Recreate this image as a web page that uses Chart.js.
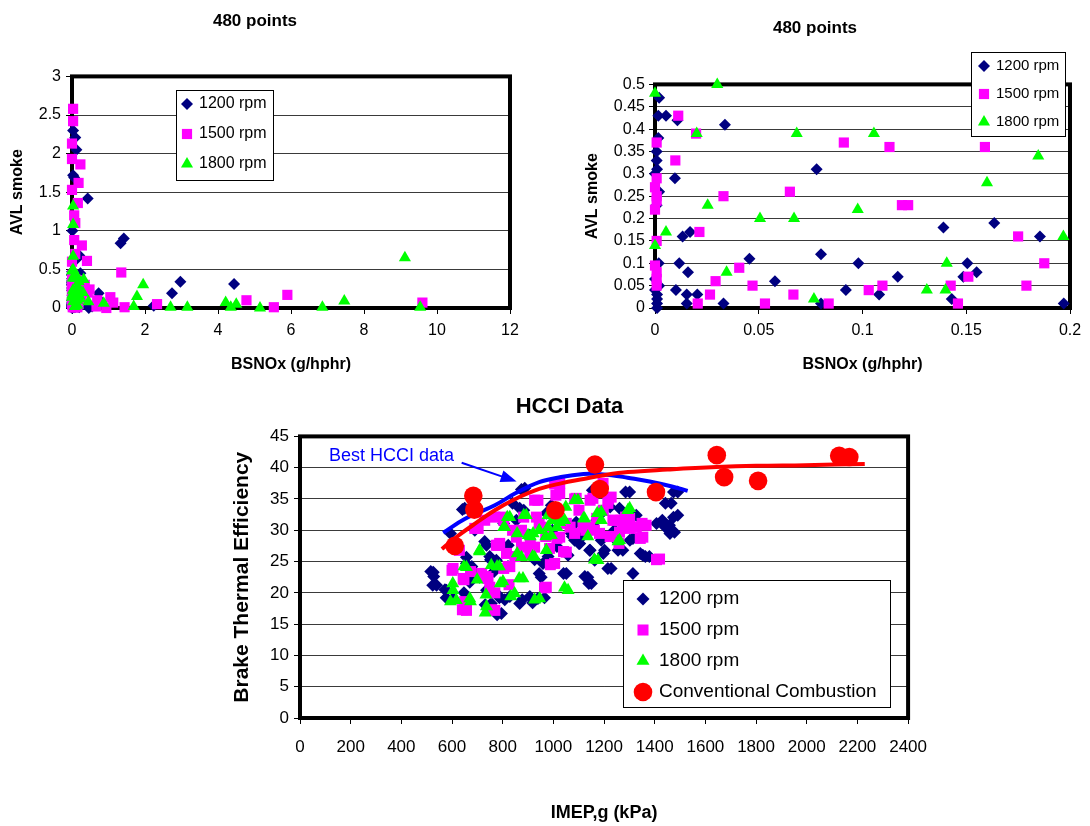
<!DOCTYPE html>
<html>
<head>
<meta charset="utf-8">
<title>HCCI smoke and efficiency</title>
<script src="https://cdn.jsdelivr.net/npm/chart.js@4.4.0/dist/chart.umd.min.js"></script>
<style>
  html, body { margin: 0; padding: 0; background: #fff; }
  body { width: 1090px; height: 826px; position: relative; overflow: hidden; }
  canvas { position: absolute; }
  #smokeWide { left: 0; top: 0; }
  #smokeZoom { left: 560px; top: 0; }
  #hcci { left: 200px; top: 385px; }
</style>
</head>
<body>
<canvas id="smokeWide" width="530" height="380"></canvas>
<canvas id="smokeZoom" width="530" height="380"></canvas>
<canvas id="hcci" width="740" height="441"></canvas>
<script>
//------------------ Data ------------------//
// AVL smoke vs BSNOx, [BSNOx, smoke]
const smoke1200 = [
  [0.002,0.47],[0.0016,0.43],[0.0053,0.43],[0.0108,0.42],[0.0337,0.41],[0.0016,0.38],[0.0008,0.35],
  [0.0008,0.33],[0.001,0.31],[0,0.30],[0.0096,0.29],[0.0779,0.31],[0.002,0.26],[0.0008,0.23],
  [0.0133,0.16],[0.0169,0.17],[0.139,0.18],[0.1635,0.19],[0.1855,0.16],[0.0018,0.10],[0.0117,0.10],
  [0.0159,0.08],[0.0455,0.11],[0.080,0.12],[0.098,0.10],[0.1505,0.10],[0.155,0.08],[0.117,0.07],
  [0.1486,0.07],[0.0578,0.06],[0.0101,0.04],[0.0153,0.03],[0.0204,0.03],[0.0153,0.01],[0.033,0.01],
  [0.080,0.01],[0.092,0.04],[0.108,0.03],[0.143,0.02],[0.197,0.01],[0,0.04],[0.001,0.03],[0.001,0.02],
  [0.001,0.01],[0.001,0],[0.002,0.05],[0,0.065],
  [0.03,2.3],[0.09,2.21],[0.12,2.05],[0.03,1.72],[0.06,1.69],[0.43,1.42],[1.33,0.84],[1.42,0.9],
  [0.23,0.45],[0.14,0.64],[0.73,0.19],[0.78,0.09],[0.85,0.05],[2.24,0.03],[2.74,0.19],[2.97,0.34],
  [4.44,0.31],[0.01,1.0],[0.46,0],[0.2,0.68],[0.3,0.05],[0.55,0.02]
];
const smoke1500 = [
  [0.0112,0.43],[0.0198,0.39],[0.0008,0.37],[0.0098,0.33],[0.0008,0.29],[0,0.27],[0.0008,0.25],
  [0.0008,0.24],[0,0.22],[0.033,0.25],[0.065,0.26],[0.091,0.37],[0.113,0.36],[0.159,0.36],[0.119,0.23],
  [0.122,0.23],[0.175,0.16],[0.1876,0.10],[0.0214,0.17],[0.0008,0.15],[0.0406,0.09],[0.0292,0.06],
  [0.0265,0.03],[0.047,0.05],[0.053,0.01],[0.0667,0.03],[0.0837,0.01],[0.103,0.04],[0.1096,0.05],
  [0.1425,0.05],[0.146,0.01],[0.151,0.07],[0.179,0.05],[0.0206,0.01],[0.0008,0.08],[0.0008,0.065],
  [0,0.095],[0.0008,0.05],
  [0.03,2.58],[0.03,2.42],[0,2.13],[0,1.93],[0.23,1.86],[0.18,1.62],[0,1.53],[0.16,1.36],[0.06,1.2],
  [0.09,1.1],[0.06,0.88],[0.27,0.81],[0.41,0.61],[1.35,0.46],[0.48,0.24],[0.43,0.2],[1.05,0.14],
  [1.13,0.07],[0.67,0.02],[0.94,0],[1.44,0.01],[2.33,0.05],[4.78,0.1],[5.53,0.01],[5.9,0.17],
  [9.6,0.07],[0,0.6],[0.09,0.7],[0.25,0.12],[0.69,0.1],[0.35,0.3]
];
const smoke1800 = [
  [0,0.48],[0.0201,0.39],[0.0683,0.39],[0.1055,0.39],[0.1847,0.34],[0.0254,0.23],[0.0506,0.20],
  [0.067,0.20],[0.0977,0.22],[0.0053,0.17],[0,0.14],[0.0345,0.08],[0.1406,0.10],[0.1968,0.16],
  [0.131,0.04],[0.0766,0.02],
  [0.03,1.32],[0.03,1.08],[0.03,0.67],[0.03,0.5],[0.16,0.39],[0.32,0.37],[0.16,0.28],[0.23,0.12],
  [0.14,0.04],[0.87,0.06],[1.69,0.02],[1.78,0.15],[1.95,0.3],[2.7,0.01],[3.16,0.01],[4.21,0.07],
  [4.35,0.01],[4.5,0.05],[5.15,0],[6.86,0.01],[7.46,0.09],[9.12,0.65],[9.54,0.01],[0.3,0.2],[0.45,0.08]
];

// Brake thermal efficiency vs IMEP,g, [kPa, %]
const imep1200 = [
  [516,23.4],[528,22.6],[524,21.2],[572,20.5],[577,19.2],[594,29.5],[641,33.3],[647,20],[670,22.6],
  [678,24.2],[729,28.2],[731,18.1],[752,25.3],[766,23.4],[778,16.5],[787,19.2],[808,18.9],[804,31.1],
  [822,27.6],[839,34.3],[874,36.5],[877,18.9],[883,33.2],[918,18.4],[926,25.3],[944,23.1],[965,19.2],
  [979,25.8],[996,30],[1014,27.4],[1040,23.1],[1058,26],[1075,29],[1101,27.9],[1119,29.2],[1124,22.6],
  [1140,21.5],[1145,26.8],[1154,36.4],[1171,31.6],[1197,26.3],[1215,23.9],[1224,33.7],[1241,30],
  [1259,29.5],[1285,36.1],[1302,28.4],[1315,32.4],[1343,26.3],[1363,25.8],[1407,31.1],[1430,31.6],
  [1442,34.3],[1442,30.5],[1460,29.5],[1474,32.1],[1474,36.1],
  [526,23.3],[539,21.2],[578,20.4],[604,19.1],[650,33.5],[690,30.0],[736,27.6],[749,25.8],[775,25.2],
  [657,24.7],[683,23.6],[709,22.5],[736,20.4],[755,18.3],[795,16.7],[788,19.4],[821,24.2],[828,19.4],
  [867,18.3],[887,36.7],[867,33.5],[854,31.6],[907,19.4],[939,19.1],[907,29.2],[959,24.7],[952,22.5],
  [992,34],[1012,28.9],[1051,23.1],[1071,29.5],[1084,28.4],[1104,27.9],[1143,26.8],[1136,22.5],
  [1150,21.5],[1163,25.2],[1189,28.4],[1202,26.8],[1228,23.9],[1241,28.7],[1261,33.5],[1255,26.8],
  [1301,36.1],[1314,28.7],[1327,32.4],[1353,26],[1379,25.8],[1465,34.3],[1491,36.1],[1491,32.4],
  [1432,31.1],[1458,30.8],[1478,29.7],[657,25.7],[972,32.7],[1090,31.3],[1182,32.4],[670,21.7],
  [1314,23.1],[1274,26.8]
];
const imep1500 = [
  [600,23.6],[629,26.8],[641,17.3],[655,18.1],[647,22.1],[690,30.3],[734,22.6],[755,17.3],[769,32.1],
  [781,27.6],[822,24.2],[825,21.3],[848,25.8],[874,30],[883,32.1],[926,34.8],[965,20.8],[988,24.5],
  [1005,37.4],[1010,35.6],[1014,28.7],[1040,26.6],[1066,30.5],[1084,35],[1101,33.2],[1128,30],
  [1145,34.8],[1162,30],[1171,31.9],[1197,33.2],[1218,35],[1224,29],[1241,31.6],[1259,27.9],
  [1267,31.6],[1285,32.1],[1302,30.3],[1325,30.5],[1343,28.7],[1350,31.1],[1407,25.3],[839,30],
  [944,31.1],[970,29],[909,27.9],[804,31.6],[717,23.1],[673,23.4],[769,20],[804,23.9],
  [604,23.9],[644,22.3],[657,17.2],[650,18.6],[703,30.3],[742,22.3],[749,20.9],[788,27.9],[801,32.1],
  [828,24.2],[769,17.2],[874,27.3],[854,28.9],[907,26.3],[926,27.3],[939,34.8],[972,20.9],[1005,24.7],
  [1025,37.5],[1025,35.9],[1025,28.9],[1051,26.5],[1090,35.1],[1117,30.5],[1156,35.1],[1143,30.5],
  [1182,29.5],[1196,37.5],[1215,34.3],[1228,35.3],[1235,31.6],[1274,30.8],[1301,31.9],[1327,30.5],
  [1353,28.9],[1366,30.8],[1419,25.4],[775,27.6],[815,26.3],[952,30.5],[985,27.1],[1084,29.5],
  [1261,29.7],[729,31.6],[933,32.1],[1051,31.1]
];
const imep1800 = [
  [594,18.6],[603,21.5],[647,24.2],[673,18.6],[708,26.6],[731,16.8],[734,19.7],[778,24.2],[790,21.5],
  [804,30.5],[818,32.1],[832,19.4],[857,29.5],[865,22.3],[883,32.4],[909,29],[918,25.8],[926,18.9],
  [970,29],[979,30.5],[996,31.6],[1023,32.1],[1044,20.8],[1084,34.8],[1119,31.9],[1136,29],[1162,25.3],
  [1173,32.7],[1189,31.6],[1255,28.2],[1294,33.2],[1049,33.7],[944,30],[1014,30.5],[857,26.3],
  [787,24.2],[699,22.1],
  [604,20.4],[617,18.8],[670,19.1],[657,24.1],[709,26.8],[755,24.4],[801,21.8],[808,30.5],[828,32.1],
  [847,19.9],[874,25.7],[880,22.3],[893,32.4],[900,29.2],[926,25.7],[920,29.5],[946,19.1],[979,32.4],
  [992,29.2],[1044,31.6],[1058,20.4],[1097,34.8],[1123,31.9],[1189,32.9],[1176,25.2],[1261,28.4],
  [1301,33.5],[736,17.8],[1025,31.3],[972,26.8]
];
const conventional = [
  [611,27.5],[684,35.5],[688,33.3],[1008,33.2],[1164,40.5],[1183,36.6],[1405,36.1],[1645,42],
  [1674,38.5],[1808,37.9],[2128,41.9],[2168,41.7]
];

// trend curves
const bestHcciX = [565, 650, 769, 850, 944, 1030, 1119, 1171, 1230, 1293, 1380, 1468, 1530];
const bestHcciY = [29.6, 31.8, 34.0, 35.9, 37.7, 38.5, 39.0, 39.0, 38.8, 38.4, 37.8, 37.0, 36.3];
const convFitX = [560, 620, 682, 769, 850, 944, 1030, 1119, 1200, 1294, 1450, 1643, 1800, 1993, 2229];
const convFitY = [27.0, 29.0, 30.8, 33.2, 35.0, 36.6, 37.5, 38.2, 38.8, 39.3, 39.7, 40.1, 40.3, 40.4, 40.6];

// tick labels
const wideXTicks = [0, 2, 4, 6, 8, 10, 12];
const wideYTicks = [0, 0.5, 1, 1.5, 2, 2.5, 3];
const zoomXTicks = [0, 0.05, 0.1, 0.15, 0.2];
const zoomYTicks = [0, 0.05, 0.1, 0.15, 0.2, 0.25, 0.3, 0.35, 0.4, 0.45, 0.5];
const imepTicks = [0, 200, 400, 600, 800, 1000, 1200, 1400, 1600, 1800, 2000, 2200, 2400];
const bteTicks = [0, 5, 10, 15, 20, 25, 30, 35, 40, 45];

// annotation
const noteText = 'Best HCCI data';
const noteAt = [114, 41.8];
const arrowFrom = [638, 40.8];
const arrowTo = [855, 37.8];

//------------------ Helpers ------------------//
const FONT = "'Liberation Sans', Arial, Helvetica, sans-serif";
const NAVY = '#000080', MAGENTA = '#ff00ff', GREEN = '#00ff00', RED = '#ff0000', BLUE = '#0000ff';

function fixedTicks(values) {
  return scale => { scale.ticks = values.map(v => ({ value: v })); };
}
const tickText = v => String(+Number(v).toFixed(3));

function toPoints(pairs) {
  return pairs.map(([x, y]) => ({ x, y }));
}

function markerSet(label, pairs, style, color, r, order) {
  return {
    label, data: toPoints(pairs), pointStyle: style, pointRadius: r,
    backgroundColor: color, borderColor: color, pointBorderWidth: 0, borderWidth: 0,
    showLine: false, clip: false, order
  };
}

// thick black frame round the plot area (Excel style)
const plotFrame = {
  id: 'plotFrame',
  beforeDatasetsDraw(chart) {
    const { ctx, chartArea: a } = chart;
    ctx.save();
    ctx.strokeStyle = '#000';
    ctx.lineWidth = 4;
    ctx.strokeRect(a.left, a.top, a.right - a.left, a.bottom - a.top);
    ctx.restore();
  }
};

// boxed legend placed freely on the canvas
function boxLegend(box) {
  return {
    id: 'boxLegend',
    afterDraw(chart) {
      const ctx = chart.ctx;
      ctx.save();
      ctx.fillStyle = '#fff';
      ctx.fillRect(box.x, box.y, box.w, box.h);
      ctx.strokeStyle = '#000';
      ctx.lineWidth = 1;
      ctx.strokeRect(box.x + 0.5, box.y + 0.5, box.w - 1, box.h - 1);
      ctx.font = box.font;
      ctx.textBaseline = 'middle';
      ctx.textAlign = 'left';
      box.items.forEach((idx, i) => {
        const ds = chart.data.datasets[idx];
        const cy = box.y + box.first + i * box.row;
        ctx.fillStyle = ds.backgroundColor;
        Chart.helpers.drawPoint(ctx, { pointStyle: ds.pointStyle, radius: ds.pointRadius, rotation: 0, borderWidth: 0 }, box.x + box.markX, cy);
        ctx.fillStyle = '#000';
        ctx.fillText(ds.label, box.x + box.textX, cy);
      });
      ctx.restore();
    }
  };
}

// "Best HCCI data" label with arrow
const hcciNote = {
  id: 'hcciNote',
  afterDatasetsDraw(chart) {
    const { ctx, scales: { x, y } } = chart;
    const x0 = x.getPixelForValue(arrowFrom[0]), y0 = y.getPixelForValue(arrowFrom[1]);
    const x1 = x.getPixelForValue(arrowTo[0]), y1 = y.getPixelForValue(arrowTo[1]);
    const ang = Math.atan2(y1 - y0, x1 - x0);
    const c = Math.cos(ang), s = Math.sin(ang);
    ctx.save();
    ctx.fillStyle = BLUE;
    ctx.strokeStyle = BLUE;
    ctx.font = '18px ' + FONT;
    ctx.textBaseline = 'middle';
    ctx.textAlign = 'left';
    ctx.fillText(noteText, x.getPixelForValue(noteAt[0]), y.getPixelForValue(noteAt[1]));
    ctx.lineWidth = 2;
    ctx.beginPath();
    ctx.moveTo(x0, y0);
    ctx.lineTo(x1 - 12 * c, y1 - 12 * s);
    ctx.stroke();
    ctx.beginPath();
    ctx.moveTo(x1, y1);
    ctx.lineTo(x1 - 16 * c - 6 * s, y1 - 16 * s + 6 * c);
    ctx.lineTo(x1 - 16 * c + 6 * s, y1 - 16 * s - 6 * c);
    ctx.closePath();
    ctx.fill();
    ctx.restore();
  }
};

function axisFont(size, bold) {
  return { family: FONT, size, weight: bold ? 'bold' : 'normal' };
}

//------------------ Smoke charts ------------------//
function smokeChart(canvasId, filter, cfg, legend) {
  const keep = pairs => pairs.filter(filter);
  new Chart(document.getElementById(canvasId), {
    type: 'scatter',
    data: {
      datasets: [
        markerSet('1200 rpm', keep(smoke1200), 'rectRot', NAVY, 6, 3),
        markerSet('1500 rpm', keep(smoke1500), 'rect', MAGENTA, 7.2, 2),
        markerSet('1800 rpm', keep(smoke1800), 'triangle', GREEN, 7, 1)
      ]
    },
    options: {
      responsive: false,
      animation: false,
      events: [],
      layout: { padding: { left: 0, right: 20, top: 0, bottom: 0 } },
      plugins: {
        legend: { display: false },
        tooltip: { enabled: false },
        title: {
          display: true, text: '480 points', color: '#000',
          font: axisFont(17, true),
          padding: { top: cfg.titleTop, bottom: cfg.titleBottom }
        }
      },
      scales: {
        x: {
          type: 'linear', min: cfg.xTicks[0], max: cfg.xTicks[cfg.xTicks.length - 1],
          afterBuildTicks: fixedTicks(cfg.xTicks),
          afterFit: s => { s.height = 72; },
          grid: { drawOnChartArea: false, tickLength: 6, tickColor: '#000' },
          border: { display: false },
          ticks: { color: '#000', font: axisFont(16), padding: 7, maxRotation: 0, autoSkip: false, callback: tickText },
          title: { display: true, text: 'BSNOx (g/hphr)', color: '#000', font: axisFont(16, true), padding: { top: 0, bottom: 6 } }
        },
        y: {
          type: 'linear', min: 0, max: cfg.yTicks[cfg.yTicks.length - 1],
          afterBuildTicks: fixedTicks(cfg.yTicks),
          afterFit: s => { s.width = cfg.yWidth; },
          grid: { color: '#3a3a3a', lineWidth: 1, tickLength: 6, tickColor: '#000' },
          border: { display: false },
          ticks: { color: '#000', font: axisFont(16), padding: cfg.yPad, autoSkip: false, callback: tickText },
          title: { display: true, text: 'AVL smoke', color: '#000', font: axisFont(16, true), padding: { top: cfg.yTitlePad, bottom: 0 } }
        }
      }
    },
    plugins: [plotFrame, boxLegend(legend)]
  });
}

smokeChart('smokeWide', () => true,
  { xTicks: wideXTicks, yTicks: wideYTicks, titleTop: 11, titleBottom: 45, yWidth: 72, yPad: 5, yTitlePad: 8 },
  { x: 176, y: 90, w: 98, h: 91, first: 14, row: 30, markX: 11, textX: 23, font: '16px ' + FONT, items: [0, 1, 2] });

smokeChart('smokeZoom', ([x, y]) => x <= 0.2 && y <= 0.5,
  { xTicks: zoomXTicks, yTicks: zoomYTicks, titleTop: 18, titleBottom: 46, yWidth: 95, yPad: 4, yTitlePad: 23 },
  { x: 411, y: 52, w: 95, h: 85, first: 14, row: 28, markX: 13, textX: 25, font: '15px ' + FONT, items: [0, 1, 2] });

//------------------ HCCI efficiency chart ------------------//
new Chart(document.getElementById('hcci'), {
  type: 'scatter',
  data: {
    datasets: [
      markerSet('1200 rpm', imep1200, 'rectRot', NAVY, 6.5, 5),
      markerSet('1500 rpm', imep1500, 'rect', MAGENTA, 7.8, 4),
      markerSet('1800 rpm', imep1800, 'triangle', GREEN, 7.5, 3),
      markerSet('Conventional Combustion', conventional, 'circle', RED, 9.3, 0),
      {
        type: 'line', label: 'Best HCCI fit',
        data: bestHcciX.map((x, i) => ({ x, y: bestHcciY[i] })),
        borderColor: BLUE, borderWidth: 4, pointRadius: 0, tension: 0.4, fill: false, order: 2
      },
      {
        type: 'line', label: 'Conventional fit',
        data: convFitX.map((x, i) => ({ x, y: convFitY[i] })),
        borderColor: RED, borderWidth: 4, pointRadius: 0, tension: 0.4, fill: false, order: 1
      }
    ]
  },
  options: {
    responsive: false,
    animation: false,
    events: [],
    layout: { padding: { left: 30, right: 31, top: 0, bottom: 0 } },
    plugins: {
      legend: { display: false },
      tooltip: { enabled: false },
      title: {
        display: true, text: 'HCCI Data', color: '#000',
        font: axisFont(22, true), padding: { top: 9, bottom: 16 }
      }
    },
    scales: {
      x: {
        type: 'linear', min: 0, max: 2400,
        afterBuildTicks: fixedTicks(imepTicks),
        afterFit: s => { s.height = 108; },
        grid: { drawOnChartArea: false, tickLength: 6, tickColor: '#000' },
        border: { display: false },
        ticks: { color: '#000', font: axisFont(17), padding: 13, maxRotation: 0, autoSkip: false, callback: tickText },
        title: { display: true, text: 'IMEP,g (kPa)', color: '#000', font: axisFont(18, true), padding: { top: 0, bottom: 2 } }
      },
      y: {
        type: 'linear', min: 0, max: 45,
        afterBuildTicks: fixedTicks(bteTicks),
        afterFit: s => { s.width = 70; },
        grid: { color: '#3a3a3a', lineWidth: 1, tickLength: 6, tickColor: '#000' },
        border: { display: false },
        ticks: { color: '#000', font: axisFont(17), padding: 5, autoSkip: false, callback: tickText },
        title: { display: true, text: 'Brake Thermal Efficiency', color: '#000', font: axisFont(21, true), padding: { top: 0, bottom: 0 } }
      }
    }
  },
  plugins: [plotFrame, hcciNote,
    boxLegend({ x: 423, y: 195, w: 268, h: 128, first: 19, row: 31, markX: 20, textX: 36, font: '19px ' + FONT, items: [0, 1, 2, 3] })]
});
</script>
</body>
</html>
